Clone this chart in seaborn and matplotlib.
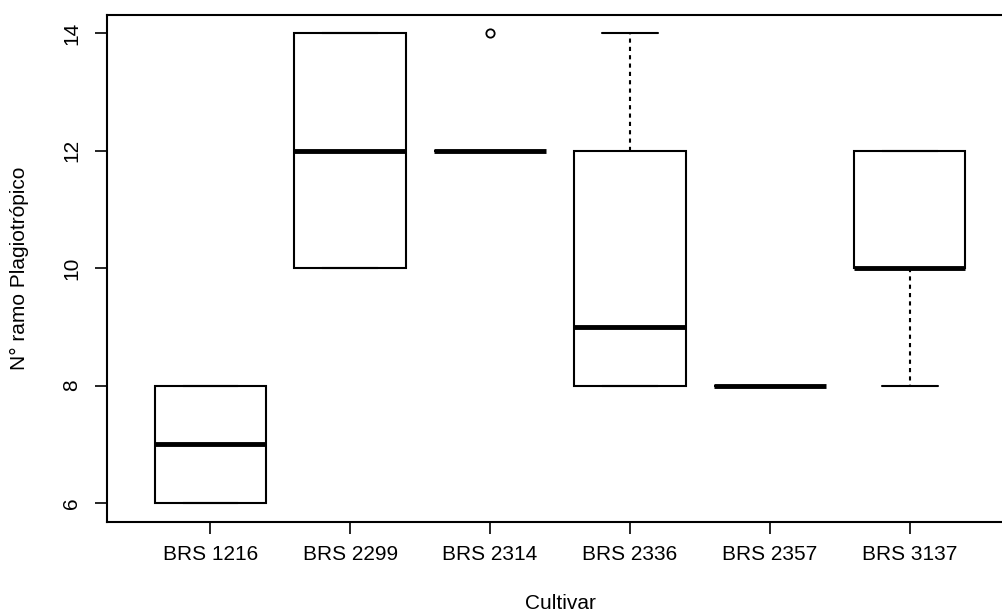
import matplotlib
matplotlib.use("Agg")
import matplotlib.pyplot as plt
import seaborn as sns
import pandas as pd

cultivars = ["BRS 1216", "BRS 2299", "BRS 2314", "BRS 2336", "BRS 2357", "BRS 3137"]
brs_1216 = [6, 6, 7, 8, 8]
brs_2299 = [10, 10, 12, 14, 14]
brs_2314 = [12, 12, 12, 12, 14]
brs_2336 = [8, 8, 9, 12, 14]
brs_2357 = [8, 8, 8, 8, 8]
brs_3137 = [8, 10, 10, 12, 12]
y_ticks = [6, 8, 10, 12, 14]

series = [brs_1216, brs_2299, brs_2314, brs_2336, brs_2357, brs_3137]
rows = []
for name, vals in zip(cultivars, series):
    for v in vals:
        rows.append({"Cultivar": name, "value": v})
df = pd.DataFrame(rows)

sns.set_style("ticks")
plt.rcParams["font.family"] = ["Liberation Sans", "DejaVu Sans"]
plt.rcParams["text.color"] = "black"
plt.rcParams["axes.labelcolor"] = "black"

fig = plt.figure(figsize=(10.03, 6.12), dpi=100)
ax = fig.add_axes([0.1067, 0.1475, 0.9033, 0.8285])

lw = 1.5
sns.boxplot(
    data=df, x="Cultivar", y="value", order=cultivars, ax=ax,
    width=0.8, color="white", linecolor="black", linewidth=lw,
    saturation=1,
    boxprops=dict(facecolor="white", edgecolor="black", linewidth=lw),
    medianprops=dict(color="black", linewidth=3.5, solid_capstyle="butt"),
    whiskerprops=dict(color="black", linewidth=lw, linestyle=(0, (2, 2))),
    capprops=dict(color="black", linewidth=lw),
    flierprops=dict(marker="o", markerfacecolor="none", markeredgecolor="black",
                    markersize=6, markeredgewidth=1.3),
)

ax.set_xlim(-0.74, 5.74)
ax.set_ylim(5.68, 14.32)
ax.set_yticks(y_ticks)
ax.set_yticklabels([str(t) for t in y_ticks], rotation=90, va="center")

for s in ax.spines.values():
    s.set_visible(True)
    s.set_linewidth(1.5)
    s.set_color("black")

ax.tick_params(axis="both", length=8.6, width=1.2, color="black", labelsize=15, labelcolor="black")
ax.tick_params(axis="x", pad=8)
ax.tick_params(axis="y", pad=10)

ax.set_xlabel("Cultivar", fontsize=15, labelpad=22, color="black")
ax.set_ylabel("N° ramo Plagiotrópico", fontsize=15, labelpad=24, color="black")

fig.savefig("out.png", dpi=100)
